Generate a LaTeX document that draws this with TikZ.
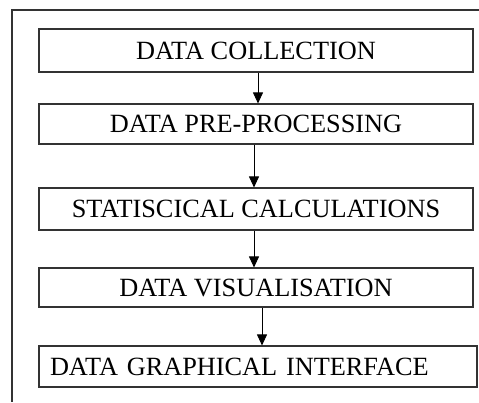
\documentclass[tikz,border=0pt]{standalone}
\usepackage{fontspec}
\setmainfont{Liberation Serif}
\usepackage{tikz}
\usetikzlibrary{positioning,arrows.meta}
\usepackage{xcolor}

\begin{document}
\begin{tikzpicture}[x=1pt,y=-1pt,font=\fontsize{26.3}{30}\selectfont,
  stage/.style={draw=black!80,line width=1.1pt,inner sep=0pt,minimum width=434pt},
  flow/.style={-{Triangle[length=11pt,width=10pt]},line width=0.9pt}]
\useasboundingbox (0,0) rectangle (479,403);
\draw[black!80,line width=1.1pt] (479,10) -- (12,10) -- (12,402);
\node[stage,minimum height=43pt] (collect) at (256,50.5) {DATA COLLECTION};
\node[stage,minimum height=40pt] (prep) at (256,124) {DATA PRE-PROCESSING};
\node[stage,minimum height=42pt] (stats) at (256,209) {STATISCICAL CALCULATIONS};
\node[stage,minimum height=39pt] (visual) at (256,287.5) {DATA VISUALISATION};
\node[stage,minimum height=41pt,text width=416pt,inner xsep=11pt,align=left] (gui) at (258,366.5) {DATA GRAPHICAL INTERFACE};
\draw[flow] ([xshift=2pt]collect.south) -- ([xshift=2pt]prep.north);
\draw[flow] ([xshift=-2pt]prep.south) -- ([xshift=-2pt]stats.north);
\draw[flow] ([xshift=-2pt]stats.south) -- ([xshift=-2pt]visual.north);
\draw[flow] ([xshift=6pt]visual.south) -- ([xshift=4pt]gui.north);
\end{tikzpicture}
\end{document}
